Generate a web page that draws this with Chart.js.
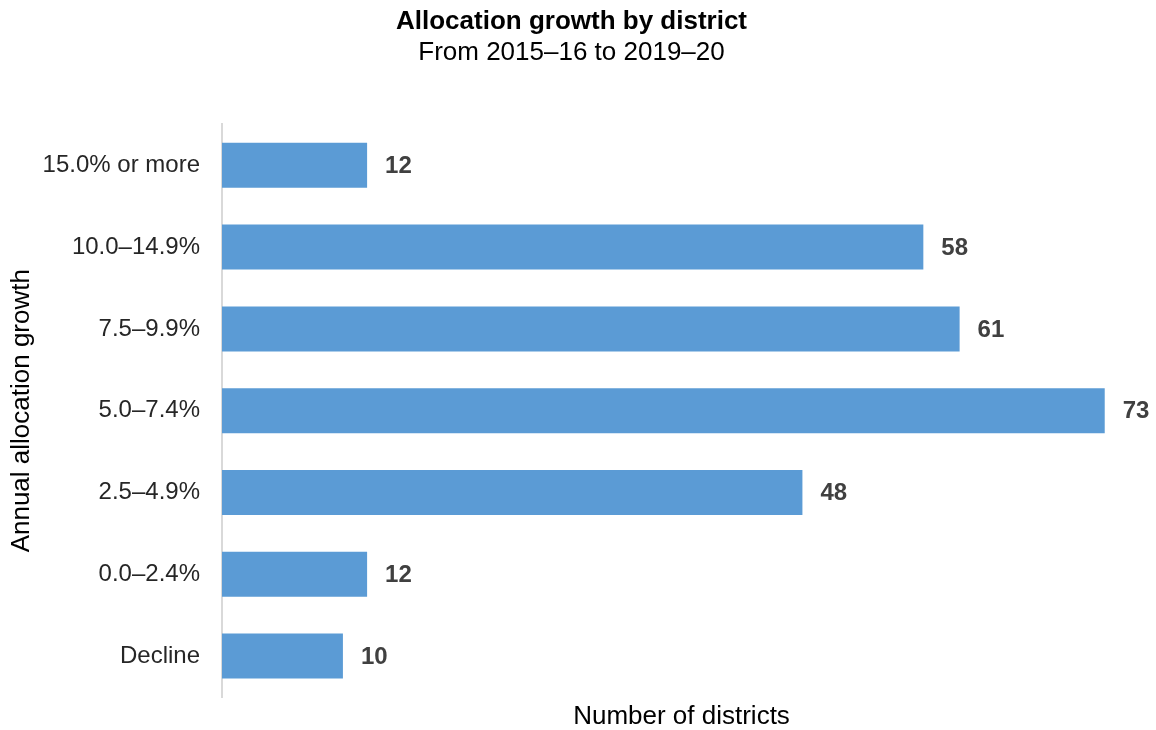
<!DOCTYPE html>
<html>
<head>
<meta charset="utf-8">
<title>Allocation growth by district</title>
<script src="https://cdn.jsdelivr.net/npm/chart.js@4"></script>
<style>
  html, body { margin: 0; padding: 0; background: #fff; }
  #wrap { width: 1156px; height: 730px; }
</style>
</head>
<body>
<div id="wrap"><canvas id="growthChart" width="1156" height="730"></canvas></div>
<script>
// growth bands, top to bottom
const bands = ['15.0% or more', '10.0–14.9%', '7.5–9.9%', '5.0–7.4%', '2.5–4.9%', '0.0–2.4%', 'Decline'];
const districtCounts = [12, 58, 61, 73, 48, 12, 10];

const FONT = '"Liberation Sans", Arial, sans-serif';

// writes the count just past the end of each bar
const barValueLabels = {
    id: 'barValueLabels',
    afterDatasetsDraw(chart) {
        const ctx = chart.ctx;
        const meta = chart.getDatasetMeta(0);
        ctx.save();
        ctx.font = 'bold 24px ' + FONT;
        ctx.fillStyle = '#404040';
        ctx.textAlign = 'left';
        ctx.textBaseline = 'middle';
        meta.data.forEach((bar, i) => {
            ctx.fillText(String(districtCounts[i]), bar.x + 18, bar.y + 1);
        });
        ctx.restore();
    }
};

const ctx = document.getElementById('growthChart').getContext('2d');
new Chart(ctx, {
    type: 'bar',
    data: {
        labels: bands,
        datasets: [{
            label: 'Number of districts',
            data: districtCounts,
            backgroundColor: '#5B9BD5',
            borderWidth: 0,
            categoryPercentage: 1,
            barPercentage: 0.55
        }]
    },
    options: {
        indexAxis: 'y',
        responsive: false,
        animation: false,
        layout: { padding: { left: 2, right: 15, top: 0, bottom: 0 } },
        plugins: {
            legend: { display: false },
            tooltip: { enabled: false },
            title: {
                display: true,
                text: 'Allocation growth by district',
                color: '#000',
                font: { family: FONT, size: 26, weight: 'bold', lineHeight: 1.2 },
                padding: { top: 6, bottom: 0 }
            },
            subtitle: {
                display: true,
                text: 'From 2015–16 to 2019–20',
                color: '#000',
                font: { family: FONT, size: 26, weight: 'normal', lineHeight: 1.2 },
                padding: { top: 0, bottom: 56 }
            }
        },
        scales: {
            x: {
                min: 0,
                max: 76,
                grid: { display: false, drawTicks: false },
                border: { display: false },
                ticks: { display: false },
                title: {
                    display: true,
                    text: 'Number of districts',
                    color: '#000',
                    font: { family: FONT, size: 26, lineHeight: 1 },
                    padding: { top: 0, bottom: 0 }
                },
                afterFit(scale) { scale.height = 33; }
            },
            y: {
                grid: { display: false, drawTicks: false },
                border: { display: true, color: '#D9D9D9', width: 2 },
                ticks: {
                    color: '#262626',
                    // small line height keeps the label padding from eating into the plot height
                    font: { family: FONT, size: 24, lineHeight: 0.6 },
                    padding: 22
                },
                title: {
                    display: true,
                    text: 'Annual allocation growth',
                    color: '#000',
                    font: { family: FONT, size: 26, lineHeight: 1.2 },
                    padding: { top: 4, bottom: 4 }
                },
                afterFit(scale) { scale.width = 220; }
            }
        }
    },
    plugins: [barValueLabels]
});
</script>
</body>
</html>
